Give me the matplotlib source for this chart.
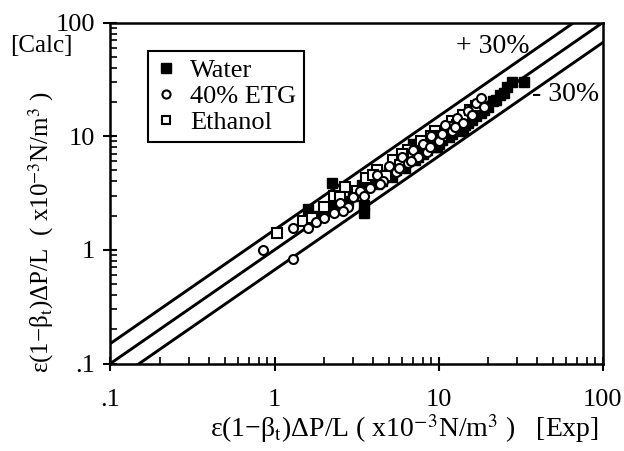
import matplotlib
matplotlib.use("Agg")
import matplotlib.pyplot as plt
import numpy as np

plt.rcParams['font.family'] = ['Liberation Serif', 'DejaVu Serif']
plt.rcParams['mathtext.fontset'] = 'stix'

water_x = [1.6, 1.8, 2.0, 2.25, 2.3, 2.5, 2.8, 3.0, 3.5, 3.5, 3.4, 4.0, 4.5, 5.0, 5.5, 6.0, 6.5,
           7.0, 7.5, 8.0, 9.0, 9.5, 10.0, 11.0, 12.0, 13.0, 14.0, 15.0, 17.0, 18.0, 20.0,
           21.5, 23.5, 26.0, 28.0, 33.0,
           4.2, 5.2, 6.2, 7.2, 8.5, 9.8, 10.5, 11.5, 12.5, 14.5, 16.0, 19.0, 22.5, 25.0]
water_y = [2.3, 2.0, 2.2, 3.9, 2.5, 2.3, 2.7, 3.0, 2.1, 2.5, 3.7, 4.5, 4.0, 4.8, 5.0, 5.5, 6.0,
           8.5, 6.5, 7.0, 9.5, 8.0, 8.5, 10.0, 10.5, 12.0, 11.0, 13.0, 15.0, 16.0, 18.0,
           20.5, 23.0, 27.0, 30.0, 30.0,
           3.8, 4.4, 5.2, 6.2, 7.6, 8.0, 9.2, 9.8, 11.5, 12.5, 14.0, 17.0, 21.0, 24.0]

etg_x = [0.85, 1.3, 1.3, 1.6, 1.8, 2.0, 2.3, 2.5, 2.8, 3.0, 3.3, 3.8, 4.2, 4.6, 5.0, 5.5, 6.0,
         6.5, 7.0, 7.5, 8.0, 8.5, 9.0, 10.0, 11.0, 12.0, 13.0, 14.0, 15.0, 16.0, 17.0, 18.0, 19.0,
         2.6, 3.5, 4.4, 5.7, 6.8, 8.8, 10.5, 12.5]
etg_y = [1.0, 0.83, 1.55, 1.55, 1.75, 1.9, 2.1, 2.6, 2.4, 2.9, 3.3, 3.5, 4.6, 4.0, 5.5, 4.8, 6.5,
         5.8, 7.5, 6.5, 8.5, 7.2, 10.0, 9.0, 12.5, 11.0, 14.5, 13.0, 16.5, 15.5, 19.5, 21.5, 18.0,
         2.2, 3.0, 3.8, 5.2, 6.0, 8.0, 10.5, 12.0]

eth_x = [1.03, 1.5, 1.7, 2.0, 2.3, 2.7, 3.2, 3.6, 4.2, 4.8, 5.3, 5.8, 6.5, 7.0, 7.8, 8.5, 9.5,
         10.5, 12.0, 13.0, 14.0, 15.5, 17.0, 2.5, 4.0, 6.0, 9.0, 11.5]
eth_y = [1.4, 1.8, 1.9, 2.4, 3.0, 3.6, 3.3, 4.3, 5.0, 4.5, 6.2, 5.6, 7.6, 6.8, 9.0, 8.2, 11.0,
         10.0, 13.5, 12.5, 15.5, 17.0, 18.5, 2.9, 4.6, 7.0, 10.0, 12.0]

line_factors = [1.5, 1.0, 1 / 1.5]

fig = plt.figure(figsize=(6.24, 4.51), dpi=100)
ax = fig.add_axes([0.177, 0.194, 0.789, 0.756])
ax.set_xscale('log')
ax.set_yscale('log')
ax.set_xlim(0.1, 100)
ax.set_ylim(0.1, 100)

xx = np.array([0.1, 100.0])
for f in line_factors:
    ax.plot(xx, xx * f, color='black', lw=2.1, zorder=2)

ax.plot(water_x, water_y, 's', color='black', ms=7.5, label='Water', zorder=3)
ax.plot(eth_x, eth_y, 's', mfc='white', mec='black', mew=1.5, ms=6.5, label='Ethanol', zorder=4)
ax.plot(etg_x, etg_y, 'o', mfc='white', mec='black', mew=1.5, ms=6.5, label='40% ETG', zorder=4)

h, l = ax.get_legend_handles_labels()
order = [0, 2, 1]
leg = ax.legend([h[i] for i in order], [l[i] for i in order], loc='upper left',
                bbox_to_anchor=(0.076, 0.918), fancybox=False, framealpha=1,
                edgecolor='black', fontsize=19, handlelength=0.8, handletextpad=0.5,
                borderpad=0.3, labelspacing=0.1, borderaxespad=0, markerscale=0.9)
leg.get_frame().set_linewidth(1.5)

ax.text(21.4, 62, '+ 30%', fontsize=20, ha='center', va='center')
ax.text(59, 23.5, '- 30%', fontsize=20, ha='center', va='center')

ax.set_xticks([0.1, 1, 10, 100])
ax.set_xticklabels(['.1', '1', '10', '100'])
ax.set_yticks([0.1, 1, 10, 100])
ax.set_yticklabels(['.1', '1', '10', '100'])
ax.tick_params(which='major', direction='inout', length=10, width=1.5, labelsize=19)
ax.tick_params(axis='x', which='major', pad=13)
ax.tick_params(axis='y', which='major', pad=6)
ax.tick_params(which='minor', direction='in', length=5, width=1.2)
for s in ax.spines.values():
    s.set_linewidth(1.8)

fig.text(404 / 624, 1 - 429 / 451,
         'ε(1−β$_{\\rm t}$)ΔP/L ( x10$^{-3}$N/m$^3$ )   [Exp]',
         fontsize=20, ha='center', va='center')
fig.text(41 / 624, 1 - 232 / 451,
         'ε(1−β$_{\\rm t}$)ΔP/L  ( x10$^{-3}$N/m$^3$ )',
         fontsize=18, ha='center', va='center', rotation=90)
fig.text(0.066, 0.898, '[Calc]', fontsize=18, ha='center', va='center')

fig.savefig('out.png', dpi=100)
